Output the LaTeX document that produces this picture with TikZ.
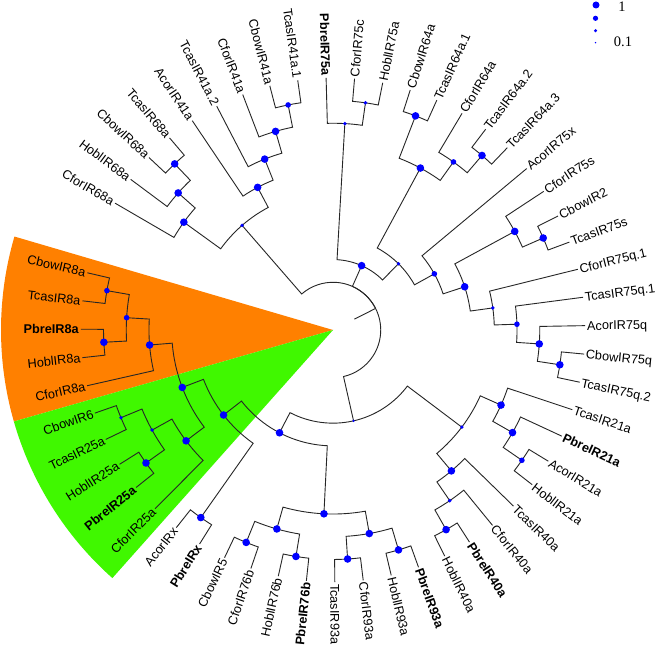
\documentclass[tikz,border=0pt]{standalone}
\usepackage{fontspec}
\setmainfont{Liberation Sans}
\newfontfamily\legendfont{Liberation Serif}
\definecolor{cladeorange}{RGB}{255,128,0}
\definecolor{cladegreen}{RGB}{64,248,0}
\tikzset{
	branch/.style={draw=black!85, line width=0.9pt},
	supp/.style={fill=blue},
	tiplab/.style={font=\fontsize{12.7}{15}\selectfont, inner sep=1.8pt, text height=9.1pt, text depth=0pt},
	legtext/.style={font=\legendfont\fontsize{14.5}{16}\selectfont, inner sep=0pt}
}
% tree node: name, position among the tips, height above the tips
\newcommand{\tnode}[3]{%
	\coordinate (#1) at ({angof(#2)}:{radof(#3)});%
	\expandafter\xdef\csname ty#1\endcsname{#2}%
	\expandafter\xdef\csname th#1\endcsname{#3}}
% branch: along the parent's arc, then out to the child
\newcommand{\tbranch}[2]{%
	\edef\tby{\csname ty#1\endcsname}\edef\tbc{\csname ty#2\endcsname}\edef\tbh{\csname th#1\endcsname}%
	\pgfmathsetmacro{\tbsa}{angof(\tby)}%
	\pgfmathsetmacro{\tbea}{angof(\tbc)}%
	\pgfmathsetmacro{\tbr}{radof(\tbh)}%
	\draw[branch] (#1) arc[start angle=\tbsa, end angle=\tbea, radius=\tbr] -- (#2);}
\begin{document}
\begin{tikzpicture}[x=1pt, y=1pt,
	declare function={angof(\y)=149.8-6.47*\y; radof(\h)=252.2-22.72*\h;}]
	\fill[white] (0,0) rectangle (664,651);
	\useasboundingbox (0,0) rectangle (664,651);
	\begin{scope}[shift={(333,321)}]
		% Highlighted clades
		\fill[cladeorange] (0,0) -- (163.65:332) arc[start angle=163.65, end angle=196.0, radius=332] -- cycle;
		\fill[cladegreen] (0,0) -- (196.0:332) arc[start angle=196.0, end angle=228.35, radius=332] -- cycle;
		% Internal nodes
		\tnode{n68cb}{2.5}{1}
		\tnode{n68hc}{1.75}{2}
		\tnode{n68}{0.875}{3}
		\tnode{n41cb}{7.5}{1}
		\tnode{n41cf}{6.75}{2}
		\tnode{n41tc}{5.875}{3}
		\tnode{n41}{4.9375}{4}
		\tnode{nA}{2.90625}{5}
		\tnode{n75ch}{10.5}{1}
		\tnode{n75}{9.75}{2}
		\tnode{n64cb}{12.5}{1}
		\tnode{n64tt}{15.5}{1}
		\tnode{n64ct}{14.75}{2}
		\tnode{n64}{13.625}{3}
		\tnode{n75st}{19.5}{1}
		\tnode{n75s}{18.75}{2}
		\tnode{n75qw}{24.5}{1}
		\tnode{n75qv}{23.75}{2}
		\tnode{n75qu}{22.875}{3}
		\tnode{n75q}{21.9375}{4}
		\tnode{nR}{20.34375}{5}
		\tnode{nQ}{18.671875}{6}
		\tnode{nN}{16.1484375}{7}
		\tnode{nB}{12.94921875}{8}
		\tnode{n21ah}{28.5}{1}
		\tnode{n21p}{27.75}{2}
		\tnode{n21}{26.875}{3}
		\tnode{n40ph}{32.5}{1}
		\tnode{n40c}{31.75}{2}
		\tnode{n40}{30.875}{3}
		\tnode{nE}{28.875}{4}
		\tnode{n93hp}{34.5}{1}
		\tnode{n93ct}{36.5}{1}
		\tnode{n93}{35.5}{2}
		\tnode{n76hp}{38.5}{1}
		\tnode{n76cc}{40.5}{1}
		\tnode{n76}{39.5}{2}
		\tnode{nG}{37.5}{3}
		\tnode{nRx}{42.5}{1}
		\tnode{n25ph}{45.5}{1}
		\tnode{n25tc}{47.5}{1}
		\tnode{n25g}{46.5}{2}
		\tnode{n25}{45.25}{3}
		\tnode{n8hp}{50.5}{1}
		\tnode{n8tc}{52.5}{1}
		\tnode{n8g}{51.5}{2}
		\tnode{n8}{50.25}{3}
		\tnode{nH}{47.75}{4}
		\tnode{nF}{45.125}{5}
		\tnode{nD}{41.3125}{6}
		\tnode{nC}{35.09375}{7}
		\tnode{root}{19}{9}
		\coordinate (rootbase) at ({angof(19)}:24);
		% Tips and their labels
		\foreach \lab [count=\i from 0] in {CforIR68a,HoblIR68a,CbowIR68a,TcasIR68a,AcorIR41a,
			TcasIR41a.2,CforIR41a,CbowIR41a,TcasIR41a.1,\textbf{PbreIR75a},CforIR75c,HoblIR75a,
			CbowIR64a,TcasIR64a.1,CforIR64a,TcasIR64a.2,TcasIR64a.3,AcorIR75x,CforIR75s,CbowIR2,
			TcasIR75s,CforIR75q.1,TcasIR75q.1,AcorIR75q,CbowIR75q,TcasIR75q.2,TcasIR21a,
			\textbf{PbreIR21a},AcorIR21a,HoblIR21a,TcasIR40a,CforIR40a,\textbf{PbreIR40a},HoblIR40a,
			\textbf{PbreIR93a},HoblIR93a,CforIR93a,TcasIR93a,\textbf{PbreIR76b},HoblIR76b,CforIR76b,
			CbowIR5,\textbf{PbreIRx},AcorIRx,CforIR25a,\textbf{PbreIR25a},HoblIR25a,TcasIR25a,CbowIR6,
			CforIR8a,HoblIR8a,\textbf{PbreIR8a},TcasIR8a,CbowIR8a}{
			\tnode{t\i}{\i}{0}
			\pgfmathsetmacro{\a}{angof(\i)}
			\pgfmathsetmacro{\rl}{\a+180}
			\pgfmathtruncatemacro{\lft}{(\a>90 || \a<-90) ? 1 : 0}
			\ifnum\lft=1
				\node[tiplab, anchor=east, rotate=\rl] (lab\i) at (t\i) {\lab};
			\else
				\node[tiplab, anchor=west, rotate=\a] (lab\i) at (t\i) {\lab};
			\fi
		}
		% Branches
		\draw[branch] (rootbase) -- (root);
		\foreach \pn/\cn in {root/nA,root/nB,root/nC,
			nA/n68,nA/n41,n68/t0,n68/n68hc,n68hc/t1,n68hc/n68cb,n68cb/t2,n68cb/t3,
			n41/t4,n41/n41tc,n41tc/t5,n41tc/n41cf,n41cf/t6,n41cf/n41cb,n41cb/t7,n41cb/t8,
			nB/n75,nB/nN,n75/t9,n75/n75ch,n75ch/t10,n75ch/t11,
			nN/n64,nN/nQ,n64/n64cb,n64/n64ct,n64cb/t12,n64cb/t13,n64ct/t14,n64ct/n64tt,n64tt/t15,n64tt/t16,
			nQ/t17,nQ/nR,nR/n75s,nR/n75q,n75s/t18,n75s/n75st,n75st/t19,n75st/t20,
			n75q/t21,n75q/n75qu,n75qu/t22,n75qu/n75qv,n75qv/t23,n75qv/n75qw,n75qw/t24,n75qw/t25,
			nC/nE,nC/nD,nE/n21,nE/n40,n21/t26,n21/n21p,n21p/t27,n21p/n21ah,n21ah/t28,n21ah/t29,
			n40/t30,n40/n40c,n40c/t31,n40c/n40ph,n40ph/t32,n40ph/t33,
			nD/nG,nD/nF,nG/n93,nG/n76,n93/n93hp,n93/n93ct,n93hp/t34,n93hp/t35,n93ct/t36,n93ct/t37,
			n76/n76hp,n76/n76cc,n76hp/t38,n76hp/t39,n76cc/t40,n76cc/t41,
			nF/nRx,nF/nH,nRx/t42,nRx/t43,nH/n25,nH/n8,
			n25/t44,n25/n25g,n25g/n25ph,n25g/n25tc,n25ph/t45,n25ph/t46,n25tc/t47,n25tc/t48,
			n8/t49,n8/n8g,n8g/n8hp,n8g/n8tc,n8hp/t50,n8hp/t51,n8tc/t52,n8tc/t53}
			\tbranch{\pn}{\cn};
		% Support values
		\foreach \n in {n68cb,n68hc,n68,n41cf,n41tc,n41,n64cb,n64tt,n64,n75st,n75s,n75qw,n75qv,nR,nB,
			n21p,n21,n40ph,n40,n93hp,n93ct,n93,n76hp,n76cc,n76,nG,nRx,n25ph,n25,n8hp,n8,nH,nF,nD}
			\fill[supp] (\n) circle[radius=3.8];
		\foreach \n in {n41cb,n64ct,n75qu,nQ,n21ah,n8tc,n8g}
			\fill[supp] (\n) circle[radius=2.8];
		\foreach \n in {nA,n75ch,n75,n75q,nN,n40c,nE,n25tc,n25g}
			\fill[supp] (\n) circle[radius=1.9];
		\fill[supp] (nC) circle[radius=1.2];
	\end{scope}
	% Legend
	\fill[supp] (596,646) circle[radius=3.5];
	\fill[supp] (595.5,632.7) circle[radius=2.6];
	\fill[supp] (595.5,620.3) circle[radius=1.7];
	\fill[supp] (595.5,608.3) circle[radius=0.8];
	\node[legtext] (legone) at (622,644.3) {1};
	\node[legtext] (legtenth) at (623,609.5) {0.1};
\end{tikzpicture}
\end{document}
